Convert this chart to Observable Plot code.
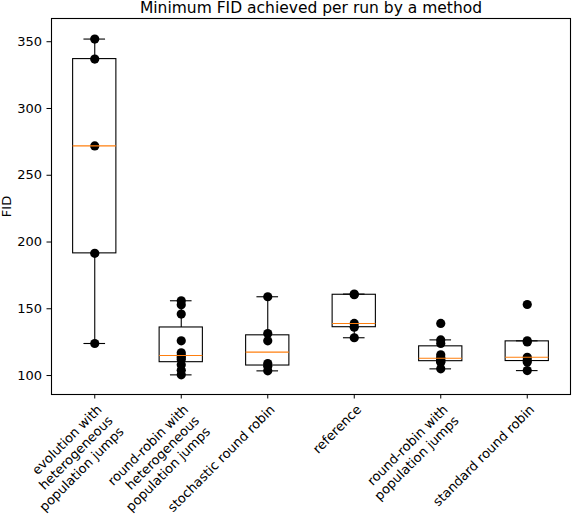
<!DOCTYPE html>
<html><head><meta charset="utf-8">
<script src="https://cdn.jsdelivr.net/npm/d3@7"></script>
<script src="https://cdn.jsdelivr.net/npm/@observablehq/plot@0.6"></script>
<style>
html,body{margin:0;padding:0;background:#fff}
#chart svg{display:block}
</style>
</head><body><div id="chart"></div>
<script>
const title = "Minimum FID achieved per run by a method";
const yLabel = "FID";
const methods = [
  "evolution with\nheterogeneous\npopulation jumps",
  "round-robin with\nheterogeneous\npopulation jumps",
  "stochastic round robin",
  "reference",
  "round-robin with\npopulation jumps",
  "standard round robin"
];
const evolutionHetJumps = [124, 191.5, 272, 337, 352];
const roundRobinHetJumps = [100.5, 104, 108, 112, 113.5, 115, 117, 126, 146, 153, 156];
const stochasticRoundRobin = [103.5, 107, 109, 126, 131.5, 159];
const referenceRuns = [128.3, 136.2, 139, 160.5, 161];
const roundRobinJumps = [105, 110, 110.5, 111.5, 112.5, 113.5, 115.5, 124, 126.7, 139];
const standardRoundRobin = [103.7, 110.2, 111.5, 113.7, 125.2, 126, 153.2];
const yTicks = [100, 150, 200, 250, 300, 350];

const groups = [evolutionHetJumps, roundRobinHetJumps, stochasticRoundRobin, referenceRuns, roundRobinJumps, standardRoundRobin];
const positions = methods.map((m, i) => i + 1);

const stats = groups.map((v, i) => {
  const s = v.slice().sort(d3.ascending);
  const q1 = d3.quantile(s, 0.25), med = d3.quantile(s, 0.5), q3 = d3.quantile(s, 0.75);
  const iqr = q3 - q1;
  const lo = d3.min(s.filter(d => d >= q1 - 1.5 * iqr));
  const hi = d3.max(s.filter(d => d <= q3 + 1.5 * iqr));
  return {pos: positions[i], q1, med, q3, lo, hi};
});
const points = groups.flatMap((v, i) => v.map(y => ({pos: positions[i], y})));

const boxHalf = 0.25, capHalf = 0.125;

const chart = Plot.plot({
  width: 572,
  height: 514,
  marginLeft: 51,
  marginRight: 2,
  marginTop: 18,
  marginBottom: 120,
  style: {fontFamily: "'DejaVu Sans', sans-serif", fontSize: "13px", color: "black", background: "white"},
  x: {type: "linear", domain: [0.5, 6.5]},
  y: {domain: [85.8, 367.4]},
  marks: [
    Plot.axisY({ticks: yTicks, tickSize: 4.5, tickPadding: 5, label: null, fontSize: 13, tickFormat: d => String(d)}),
    Plot.axisX({ticks: positions, tickSize: 4.5, tickFormat: () => "", label: null}),
    Plot.dot(points, {x: "pos", y: "y", r: 4.6, fill: "black", stroke: "none"}),
    Plot.ruleX(stats, {x: "pos", y1: "q3", y2: "hi", stroke: "black", strokeWidth: 1.1}),
    Plot.ruleX(stats, {x: "pos", y1: "lo", y2: "q1", stroke: "black", strokeWidth: 1.1}),
    Plot.ruleY(stats, {y: "hi", x1: d => d.pos - capHalf, x2: d => d.pos + capHalf, stroke: "black", strokeWidth: 1.1}),
    Plot.ruleY(stats, {y: "lo", x1: d => d.pos - capHalf, x2: d => d.pos + capHalf, stroke: "black", strokeWidth: 1.1}),
    Plot.rect(stats, {x1: d => d.pos - boxHalf, x2: d => d.pos + boxHalf, y1: "q1", y2: "q3", fill: "none", stroke: "black", strokeWidth: 1.1}),
    Plot.ruleY(stats, {y: "med", x1: d => d.pos - boxHalf, x2: d => d.pos + boxHalf, stroke: "#ff7f0e", strokeWidth: 1.1}),
    Plot.frame({stroke: "black", strokeWidth: 1.1}),
    Plot.text(methods, {x: (d, i) => positions[i], text: d => d, frameAnchor: "bottom", dy: 8, textAnchor: "end", lineAnchor: "top", rotate: -45, lineHeight: 1.2, fontSize: 13, fill: "black"}),
    Plot.text([yLabel], {frameAnchor: "left", dx: -41, rotate: -90, textAnchor: "middle", lineAnchor: "bottom", fontSize: 13, fill: "black"}),
    Plot.text([title], {frameAnchor: "top", dy: -5.5, textAnchor: "middle", lineAnchor: "bottom", fontSize: 15.5, fill: "black"})
  ]
});
document.getElementById("chart").appendChild(chart);
</script>
</body></html>
